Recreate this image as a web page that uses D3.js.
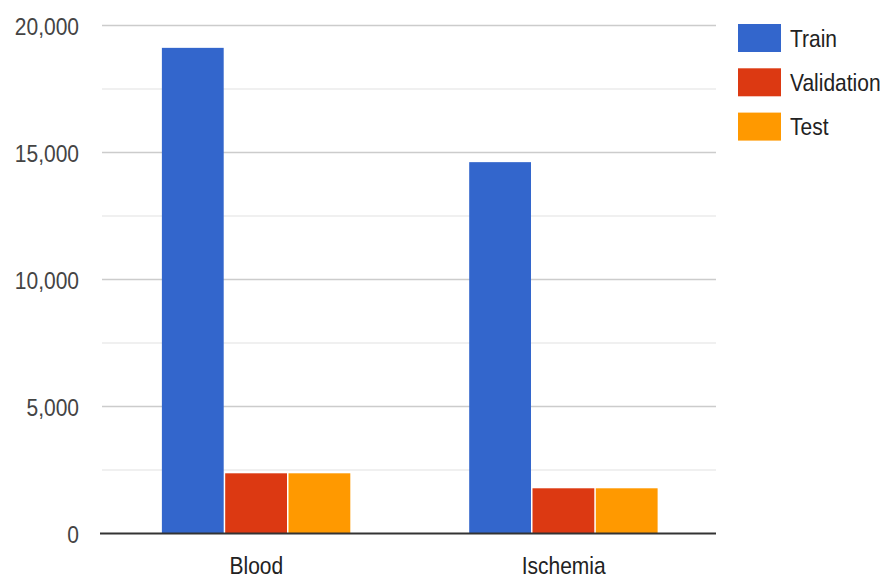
<!DOCTYPE html>
<html>
<head>
<meta charset="utf-8">
<script src="https://cdn.jsdelivr.net/npm/d3@7"></script>
<style>
  html, body { margin: 0; padding: 0; background: #fff; }
  svg { display: block; font-family: "Liberation Sans", Arial, sans-serif; }
</style>
</head>
<body>
<svg id="chart" width="888" height="583"></svg>
<script>
// Dataset sizes per class and split
const categories = ["Blood", "Ischemia"];
const seriesNames = ["Train", "Validation", "Test"];
const trainValues = [19120, 14620];
const validationValues = [2370, 1780];
const testValues = [2370, 1780];
const seriesColors = ["#3366cc", "#dc3912", "#ff9900"];
const majorTicks = [0, 5000, 10000, 15000, 20000];
const minorTicks = [2500, 7500, 12500, 17500];

const seriesValues = [trainValues, validationValues, testValues];
const rows = categories.map((c, i) => ({
  category: c,
  values: seriesNames.map((s, k) => ({ series: s, value: seriesValues[k][i], color: seriesColors[k] }))
}));

const svg = d3.select("#chart");
const plot = { left: 100, right: 716, top: 25.5, bottom: 533.5 };
const squeeze = 0.875; // horizontal text compression

const y = d3.scaleLinear().domain([0, 20000]).range([plot.bottom, plot.top]);
const x0 = d3.scaleBand().domain(categories).range([plot.left + 3, plot.right + 1])
  .paddingInner(0.382).paddingOuter(0.19);
const x1 = d3.scaleBand().domain(seriesNames).range([0, x0.bandwidth()]).padding(0);

// minor gridlines
svg.append("g").selectAll("line").data(minorTicks).join("line")
  .attr("x1", plot.left + 2).attr("x2", plot.right)
  .attr("y1", d => y(d)).attr("y2", d => y(d))
  .attr("stroke", "#ebebeb").attr("stroke-width", 1.5);

// major gridlines
svg.append("g").selectAll("line").data(majorTicks.filter(d => d > 0)).join("line")
  .attr("x1", plot.left + 2).attr("x2", plot.right)
  .attr("y1", d => y(d)).attr("y2", d => y(d))
  .attr("stroke", "#cccccc").attr("stroke-width", 1.5);

// y axis labels
const yAxis = d3.axisLeft(y).tickValues(majorTicks).tickSize(0).tickPadding(0)
  .tickFormat(d3.format(","));
const yg = svg.append("g").attr("transform", `translate(${plot.left - 21},0)`).call(yAxis);
yg.select(".domain").remove();
yg.selectAll("text")
  .attr("x", 0).attr("dy", "0.36em")
  .attr("font-size", 24).attr("fill", "#444")
  .attr("font-family", "Liberation Sans, Arial, sans-serif")
  .attr("transform", `scale(${squeeze},1)`);

// bars
const groups = svg.append("g").selectAll("g").data(rows).join("g")
  .attr("transform", d => `translate(${x0(d.category)},0)`);
groups.selectAll("rect").data(d => d.values).join("rect")
  .attr("x", d => x1(d.series) + 0.5)
  .attr("width", x1.bandwidth() - 1.5)
  .attr("y", d => y(d.value))
  .attr("height", d => y(0) - y(d.value))
  .attr("fill", d => d.color);

// baseline
svg.append("line")
  .attr("x1", plot.left).attr("x2", plot.right)
  .attr("y1", y(0)).attr("y2", y(0))
  .attr("stroke", "#333").attr("stroke-width", 2);

// x axis labels
const xAxis = d3.axisBottom(x0).tickSize(0).tickPadding(0);
const xg = svg.append("g").attr("transform", `translate(0,${plot.bottom})`).call(xAxis);
xg.select(".domain").remove();
xg.selectAll(".tick").each(function (d) {
  const t = d3.select(this).select("text");
  t.attr("y", 0).attr("dy", 0)
    .attr("font-size", 24).attr("fill", "#222")
    .attr("font-family", "Liberation Sans, Arial, sans-serif")
    .attr("transform", `translate(0,40.5) scale(${squeeze},1)`);
});

// legend
const legend = svg.append("g").attr("transform", "translate(738,24)");
const items = legend.selectAll("g").data(seriesNames).join("g")
  .attr("transform", (d, i) => `translate(0,${i * 44.3})`);
items.append("rect")
  .attr("width", 43).attr("height", 28)
  .attr("fill", (d, i) => seriesColors[i]);
items.append("text")
  .attr("transform", `translate(52,14) scale(${squeeze},1)`)
  .attr("dy", "0.36em")
  .attr("font-size", 24).attr("fill", "#222")
  .text(d => d);
</script>
</body>
</html>
